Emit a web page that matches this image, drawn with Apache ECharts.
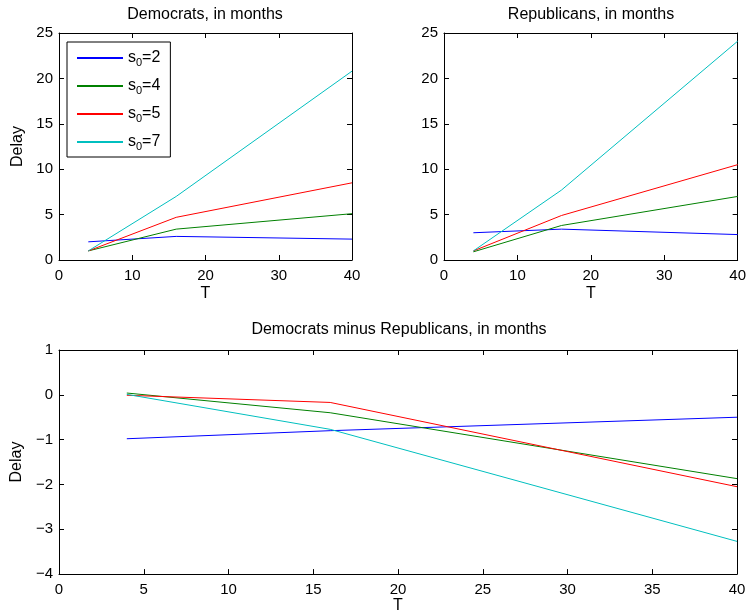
<!DOCTYPE html>
<html>
<head>
<meta charset="utf-8">
<script src="https://cdn.jsdelivr.net/npm/echarts@6/dist/echarts.min.js"></script>
<style>
  html, body { margin: 0; padding: 0; background: #fff; }
  #chart { width: 749px; height: 615px; }
</style>
</head>
<body>
<div id="chart"></div>
<script>
// data
const T = [4, 16, 40];
const names = ['s0=2', 's0=4', 's0=5', 's0=7'];
const colors = ['#0000ff', '#008000', '#ff0000', '#00bfbf'];
// Democrats
const demS2 = [2.0, 2.6, 2.3];
const demS4 = [1.0, 3.4, 5.1];
const demS5 = [1.0, 4.7, 8.5];
const demS7 = [1.0, 7.0, 20.8];
// Republicans
const repS2 = [3.0, 3.4, 2.8];
const repS4 = [0.9, 3.8, 7.0];
const repS5 = [1.0, 4.9, 10.5];
const repS7 = [1.0, 7.7, 24.1];
// Democrats minus Republicans
const diffS2 = [-0.98, -0.8, -0.5];
const diffS4 = [0.04, -0.4, -1.87];
const diffS5 = [-0.01, -0.17, -2.05];
const diffS7 = [0.01, -0.77, -3.27];

const chart = echarts.init(document.getElementById('chart'));
const font = 'Liberation Sans, Arial, Helvetica, sans-serif';
const minus = v => String(v).replace('-', '\u2212');

function xAx(grid, max, interval, gap) {
  return [
    {
      type: 'value', gridIndex: grid, min: 0, max: max, interval: interval,
      name: 'T', nameLocation: 'middle', nameGap: gap,
      nameTextStyle: { color: '#000', fontSize: 16, fontFamily: font },
      axisLine: { show: true, onZero: false, lineStyle: { color: '#000' } },
      axisTick: { inside: true, length: 5, lineStyle: { color: '#000' } },
      axisLabel: { color: '#000', fontSize: 15, fontFamily: font, margin: 8 },
      splitLine: { show: false }
    },
    {
      type: 'value', gridIndex: grid, position: 'top', min: 0, max: max, interval: interval,
      axisLine: { show: true, onZero: false, lineStyle: { color: '#000' } },
      axisTick: { inside: true, length: 5, lineStyle: { color: '#000' } },
      axisLabel: { show: false }, splitLine: { show: false }
    }
  ];
}
function yAx(grid, min, max, interval, name) {
  return [
    {
      type: 'value', gridIndex: grid, min: min, max: max, interval: interval,
      name: name, nameLocation: 'middle', nameGap: 33,
      nameTextStyle: { color: '#000', fontSize: 16, fontFamily: font },
      axisLine: { show: true, onZero: false, lineStyle: { color: '#000' } },
      axisTick: { inside: true, length: 5, lineStyle: { color: '#000' } },
      axisLabel: { color: '#000', fontSize: 15, fontFamily: font, margin: 6, formatter: minus },
      splitLine: { show: false }
    },
    {
      type: 'value', gridIndex: grid, position: 'right', min: min, max: max, interval: interval,
      axisLine: { show: true, onZero: false, lineStyle: { color: '#000' } },
      axisTick: { inside: true, length: 5, lineStyle: { color: '#000' } },
      axisLabel: { show: false }, splitLine: { show: false }
    }
  ];
}

function makeSeries(sets, xi, yi) {
  return sets.map((vals, i) => ({
    name: names[i],
    type: 'line',
    xAxisIndex: xi,
    yAxisIndex: yi,
    data: T.map((t, k) => [t, vals[k]]),
    symbol: 'none',
    lineStyle: { width: 1, color: colors[i] },
    itemStyle: { color: colors[i] }
  }));
}

const titleStyle = { fontSize: 16, fontWeight: 'normal', color: '#000', fontFamily: font };

const option = {
  animation: false,
  textStyle: { fontFamily: font },
  title: [
    { text: 'Democrats, in months', left: 205, top: 7, padding: 0, textAlign: 'center', textStyle: titleStyle },
    { text: 'Republicans, in months', left: 591, top: 7, padding: 0, textAlign: 'center', textStyle: titleStyle },
    { text: 'Democrats minus Republicans, in months', left: 399, top: 322, padding: 0, textAlign: 'center', textStyle: titleStyle }
  ],
  legend: {
    data: names,
    orient: 'vertical',
    left: 67, top: 42,
    padding: [8, 10, 5, 10],
    itemGap: 10,
    itemWidth: 46, itemHeight: 2,
    icon: 'rect',
    borderColor: '#000', borderWidth: 1,
    backgroundColor: '#fff',
    formatter: n => '{a|s}{b|0}{a|' + n.slice(2) + '}',
    textStyle: {
      color: '#000', fontFamily: font,
      rich: {
        a: { fontSize: 16, color: '#000', fontFamily: font, lineHeight: 20 },
        b: { fontSize: 11, color: '#000', fontFamily: font, padding: [9, 0, 0, 0] }
      }
    }
  },
  grid: [
    { left: 59, top: 33, width: 293, height: 227 },
    { left: 444, top: 33, width: 294, height: 227 },
    { left: 59, top: 350, width: 678, height: 227 }
  ],
  xAxis: [].concat(xAx(0, 40, 10, 26), xAx(1, 40, 10, 26), xAx(2, 40, 5, 23)),
  yAxis: [].concat(yAx(0, 0, 25, 5, 'Delay'), yAx(1, 0, 25, 5, ''), yAx(2, -4, 1, 1, 'Delay')),
  series: [].concat(
    makeSeries([demS2, demS4, demS5, demS7], 0, 0),
    makeSeries([repS2, repS4, repS5, repS7], 2, 2),
    makeSeries([diffS2, diffS4, diffS5, diffS7], 4, 4)
  )
};
chart.setOption(option);
</script>
</body>
</html>
